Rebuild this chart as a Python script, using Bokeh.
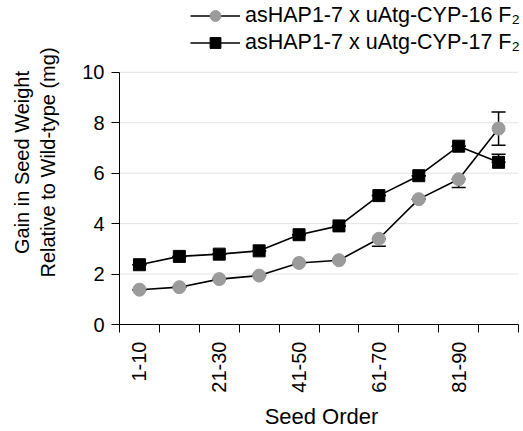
import numpy as np
from bokeh.plotting import figure
from bokeh.models import (Range1d, FixedTicker, Whisker, ColumnDataSource, TeeHead,
                          Legend, LegendItem)
from bokeh.embed import file_html
from bokeh.resources import INLINE

categories = ["1-10", "11-20", "21-30", "31-40", "41-50",
              "51-60", "61-70", "71-80", "81-90", "91-100"]
shown_labels = ["1-10", "21-30", "41-50", "61-70", "81-90"]
y_ticks = [0, 2, 4, 6, 8, 10]

cyp16 = [1.38, 1.48, 1.80, 1.94, 2.44, 2.55, 3.40, 4.97, 5.76, 7.77]
cyp16_err_up = [0, 0, 0, 0, 0, 0, 0, 0, 0, 0.66]
cyp16_err_down = [0, 0, 0, 0, 0, 0, 0.30, 0, 0.33, 0.66]

cyp17 = [2.37, 2.70, 2.79, 2.92, 3.56, 3.91, 5.11, 5.90, 7.07, 6.43]
cyp17_err_up = [0, 0, 0, 0, 0, 0, 0, 0, 0, 0.32]
cyp17_err_down = [0, 0, 0, 0, 0, 0, 0, 0, 0, 0]

series_names = ["asHAP1-7 x uAtg-CYP-16 F\u2082", "asHAP1-7 x uAtg-CYP-17 F\u2082"]

FONT = "Liberation Sans"
GRAY = "#9b9b9b"

n = len(categories)
xpos = np.arange(n) + 0.5
ymax = max(y_ticks)

# frame reaches the top/right edge so that the legend (drawn inside the frame)
# can sit above the plotted region; axes are bounded to the data region.
p = figure(width=523, height=431, output_backend="svg", toolbar_location=None,
           x_range=Range1d(0, n + 0.125), y_range=Range1d(0, ymax * 1.2846),
           min_border_left=119, min_border_right=0, min_border_top=0,
           min_border_bottom=106)
p.outline_line_color = None
p.background_fill_color = "white"
p.border_fill_color = "white"
p.grid.visible = False

# horizontal grid lines over the data region only
gy = [t for t in y_ticks if t > 0]
p.segment(x0=[0] * len(gy), y0=gy, x1=[n] * len(gy), y1=gy,
          line_color="#e3e3e3", line_width=1, level="underlay")

p.yaxis.bounds = (0, ymax)
p.yaxis.ticker = FixedTicker(ticks=y_ticks)
p.yaxis.major_tick_out = 8
p.yaxis.major_tick_in = 0
p.yaxis.minor_tick_out = 0
p.yaxis.minor_tick_in = 0
p.yaxis.major_label_standoff = 7
p.yaxis.major_label_text_font = FONT
p.yaxis.major_label_text_font_size = "20px"
p.yaxis.major_label_text_color = "black"
p.yaxis.axis_label = "Gain in Seed Weight\nRelative to Wild-type (mg)"
p.yaxis.axis_label_text_font = FONT
p.yaxis.axis_label_text_font_size = "20px"
p.yaxis.axis_label_text_font_style = "normal"
p.yaxis.axis_label_text_color = "black"
p.yaxis.axis_label_standoff = 20
p.yaxis.axis_line_color = "black"
p.yaxis.major_tick_line_color = "black"

label_ticks = [float(xpos[categories.index(c)]) for c in shown_labels]
p.xaxis.bounds = (0, n)
p.xaxis.ticker = FixedTicker(ticks=label_ticks, minor_ticks=list(range(n + 1)))
p.xaxis.major_label_overrides = {t: c for t, c in zip(label_ticks, shown_labels)}
p.xaxis.major_tick_out = 0
p.xaxis.major_tick_in = 0
p.xaxis.minor_tick_out = 8
p.xaxis.minor_tick_in = 0
p.xaxis.minor_tick_line_color = "black"
p.xaxis.major_label_orientation = np.pi / 2
p.xaxis.major_label_standoff = 9
p.xaxis.major_label_text_font = FONT
p.xaxis.major_label_text_font_size = "20px"
p.xaxis.major_label_text_color = "black"
p.xaxis.axis_label = "Seed Order"
p.xaxis.axis_label_text_font = FONT
p.xaxis.axis_label_text_font_size = "22px"
p.xaxis.axis_label_text_font_style = "normal"
p.xaxis.axis_label_text_color = "black"
p.xaxis.axis_label_standoff = 8
p.xaxis.axis_line_color = "black"

for vals, up, down in ((cyp16, cyp16_err_up, cyp16_err_down),
                       (cyp17, cyp17_err_up, cyp17_err_down)):
    v = np.array(vals)
    src = ColumnDataSource(dict(x=xpos, upper=v + np.array(up),
                                lower=v - np.array(down)))
    w = Whisker(source=src, base="x", upper="upper", lower="lower",
                line_color="black", line_width=1.5,
                upper_head=TeeHead(size=14, line_color="black", line_width=1.5),
                lower_head=TeeHead(size=14, line_color="black", line_width=1.5),
                level="underlay")
    p.add_layout(w)

l16 = p.line(xpos, cyp16, line_color="black", line_width=1.6)
s16 = p.scatter(xpos, cyp16, marker="circle", size=13, fill_color=GRAY,
                line_color=GRAY)
l17 = p.line(xpos, cyp17, line_color="black", line_width=1.6)
s17 = p.scatter(xpos, cyp17, marker="square", size=12, fill_color="black",
                line_color="black")

legend = Legend(items=[LegendItem(label=series_names[0], renderers=[l16, s16]),
                       LegendItem(label=series_names[1], renderers=[l17, s17])],
                location=(71, 268), orientation="vertical",
                glyph_width=50, glyph_height=27, label_height=27,
                label_standoff=5, spacing=0, padding=0, margin=0,
                border_line_color=None, background_fill_alpha=0,
                label_text_font=FONT, label_text_font_size="21.5px",
                label_text_color="black")
p.add_layout(legend, "center")

open("out.html", "w").write(file_html(p, INLINE))
